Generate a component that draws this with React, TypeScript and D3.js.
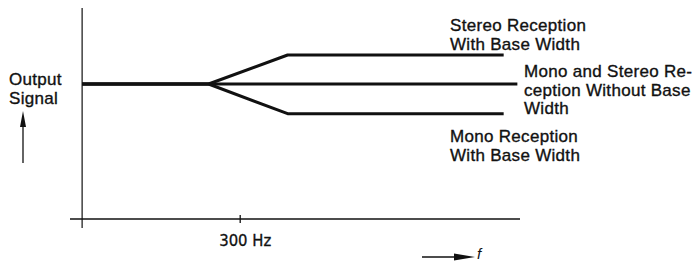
import React, { useRef, useEffect } from "react";
import * as d3 from "d3";

// frequency points (Hz) where the curves change direction
const branchFreq = [0, 240, 390, 800];
const stereoWithBase = [1, 1, 1.215, 1.215];
const monoWithBase = [1, 1, 0.78, 0.78];
const flatFreq = [0, 826];
const withoutBase = [1, 1];

const xTicks = [300];
const xTickLabels = ["300 Hz"];

const width = 700;
const height = 261;
const ink = "#111";
const sans = "'Liberation Sans', Arial, Helvetica, sans-serif";

export default function App() {
  const svgRef = useRef<SVGSVGElement>(null);

  useEffect(() => {
    const svg = d3.select(svgRef.current);
    svg.selectAll("*").remove();

    const x = d3.scaleLinear().domain([-23, 831]).range([70, 520]);
    const y = d3.scaleLinear().domain([-0.067, 1.563]).range([228, 8]);

    // axes (plain cross, no frame)
    svg.append("line")
      .attr("x1", x(0)).attr("x2", x(0))
      .attr("y1", y(1.563)).attr("y2", y(-0.067))
      .attr("stroke", ink).attr("stroke-width", 1.2);
    svg.append("line")
      .attr("x1", x(-23)).attr("x2", x(831))
      .attr("y1", y(0)).attr("y2", y(0))
      .attr("stroke", ink).attr("stroke-width", 1.4);

    xTicks.forEach((t, i) => {
      svg.append("line")
        .attr("x1", x(t)).attr("x2", x(t))
        .attr("y1", y(0) - 4).attr("y2", y(0) + 4)
        .attr("stroke", ink).attr("stroke-width", 1.3);
      svg.append("text")
        .attr("x", x(t) + 5).attr("y", y(0) + 27)
        .attr("text-anchor", "middle")
        .attr("font-family", "'DejaVu Sans Condensed', 'DejaVu Sans', sans-serif")
        .attr("font-stretch", "condensed")
        .attr("font-size", 16.5)
        .attr("fill", ink)
        .attr("stroke", ink).attr("stroke-width", 0.3)
        .text(xTickLabels[i]);
    });

    const line = d3.line<[number, number]>()
      .x((d) => x(d[0]))
      .y((d) => y(d[1]));

    const curves: [number, number][][] = [
      flatFreq.map((f, i) => [f, withoutBase[i]]),
      branchFreq.map((f, i) => [f, stereoWithBase[i]]),
      branchFreq.map((f, i) => [f, monoWithBase[i]]),
    ];
    svg.selectAll("path.curve")
      .data(curves)
      .join("path")
      .attr("class", "curve")
      .attr("d", (d) => line(d))
      .attr("fill", "none")
      .attr("stroke", ink)
      .attr("stroke-width", 3)
      .attr("stroke-linejoin", "round");

    // labels
    const labels = [
      { lines: ["Stereo Reception", "With Base Width"], x: 450, y: 31 },
      { lines: ["Mono and Stereo Re-", "ception Without Base", "Width"], x: 524, y: 77 },
      { lines: ["Mono Reception", "With Base Width"], x: 450, y: 142 },
      { lines: ["Output", "Signal"], x: 9, y: 85 },
    ];
    labels.forEach((l) => {
      const t = svg.append("text")
        .attr("font-family", sans)
        .attr("font-size", 17)
        .attr("letter-spacing", 0.3)
        .attr("fill", ink)
        .attr("stroke", ink).attr("stroke-width", 0.35);
      l.lines.forEach((s, i) => {
        t.append("tspan").attr("x", l.x).attr("y", l.y + i * 18.5).text(s);
      });
    });

    // up arrow under "Output Signal"
    svg.append("line")
      .attr("x1", 23).attr("x2", 23).attr("y1", 163).attr("y2", 122)
      .attr("stroke", ink).attr("stroke-width", 1.3);
    svg.append("path")
      .attr("d", "M23,111 L20,127 L26,127 Z")
      .attr("fill", ink);

    // frequency arrow
    svg.append("line")
      .attr("x1", 422).attr("x2", 462).attr("y1", 257).attr("y2", 257)
      .attr("stroke", ink).attr("stroke-width", 1.3);
    svg.append("path")
      .attr("d", "M475,257 L454,253.5 L454,260.5 Z")
      .attr("fill", ink);
    svg.append("text")
      .attr("x", 477).attr("y", 259)
      .attr("font-family", sans)
      .attr("font-style", "italic")
      .attr("font-size", 15)
      .attr("fill", ink)
      .text("f");
  }, []);

  return (
    <svg
      ref={svgRef}
      width={width}
      height={height}
      style={{ position: "absolute", left: 0, top: 0, background: "#fff" }}
    />
  );
}
